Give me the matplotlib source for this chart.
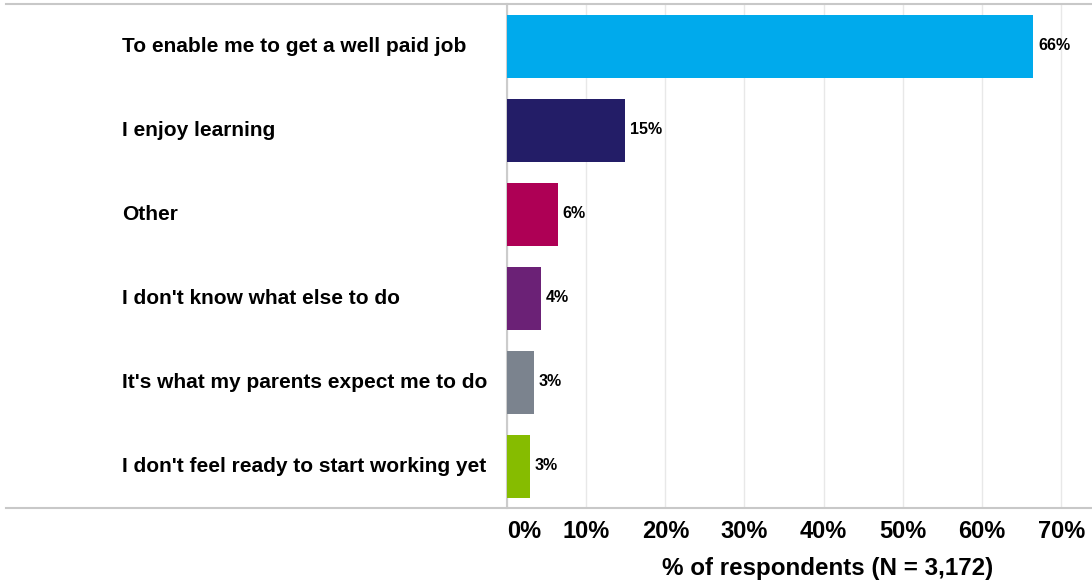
import matplotlib
matplotlib.use("Agg")
import matplotlib.pyplot as plt
import matplotlib.transforms as mtransforms
from matplotlib.lines import Line2D

# данные
categories = [
    "To enable me to get a well paid job",
    "I enjoy learning",
    "Other",
    "I don't know what else to do",
    "It's what my parents expect me to do",
    "I don't feel ready to start working yet",
]
values = [66.5, 14.9, 6.4, 4.3, 3.4, 2.9]
colors = ["#00AAEC", "#231D67", "#AE0055", "#6B2176", "#7B838E", "#86BC00"]
ticks = [0, 10, 20, 30, 40, 50, 60, 70]
tick_labels = ["0%", "10%", "20%", "30%", "40%", "50%", "60%", "70%"]
xlabel = "% of respondents (N = 3,172)"

plt.rcParams["font.family"] = ["Liberation Sans", "DejaVu Sans"]

W, H = 1092, 583
fig = plt.figure(figsize=(W / 100, H / 100), dpi=100)
ax = fig.add_axes([507 / W, 1 - 508 / H, 1 - 507 / W, (508 - 4) / H])

y = list(range(len(categories)))
ax.barh(y, values, height=0.75, color=colors, zorder=3)
ax.set_ylim(len(categories) - 0.5, -0.5)
ax.set_xlim(0, 73.9)

ax.set_xticks(ticks)
ax.set_xticklabels(tick_labels, fontsize=17, fontweight="bold")
ax.get_xticklabels()[0].set_ha("left")
ax.get_xticklabels()[0].set_x(0.4)
ax.tick_params(axis="x", length=0, pad=9)
ax.set_yticks([])
ax.grid(axis="x", color="#e8e8e8", linewidth=1, zorder=0)
for s in ["top", "right", "bottom"]:
    ax.spines[s].set_visible(False)
ax.spines["left"].set_color("#cccccc")
ax.spines["left"].set_linewidth(1.5)

# подписи значений
for i, v in enumerate(values):
    ax.annotate(f"{v:.0f}%", (v, i), xytext=(3.6, 0), textcoords="offset points",
                va="center", ha="left", fontsize=11.5, fontweight="bold", zorder=4)

# подписи категорий
trans = mtransforms.blended_transform_factory(fig.transFigure, ax.transData)
for i, c in enumerate(categories):
    ax.text(122 / W, i, c, transform=trans, ha="left", va="center",
            fontsize=15, fontweight="bold", clip_on=False)

# горизонтальные линии рамки
for yy in [4, 508]:
    fig.add_artist(Line2D([6 / W, 1], [1 - yy / H, 1 - yy / H],
                          color="#c8c8c8", linewidth=1.5))

fig.text(828 / W, 1 - 568 / H, xlabel, ha="center", va="center",
         fontsize=17.4, fontweight="bold")

fig.savefig("out.png", dpi=100)
